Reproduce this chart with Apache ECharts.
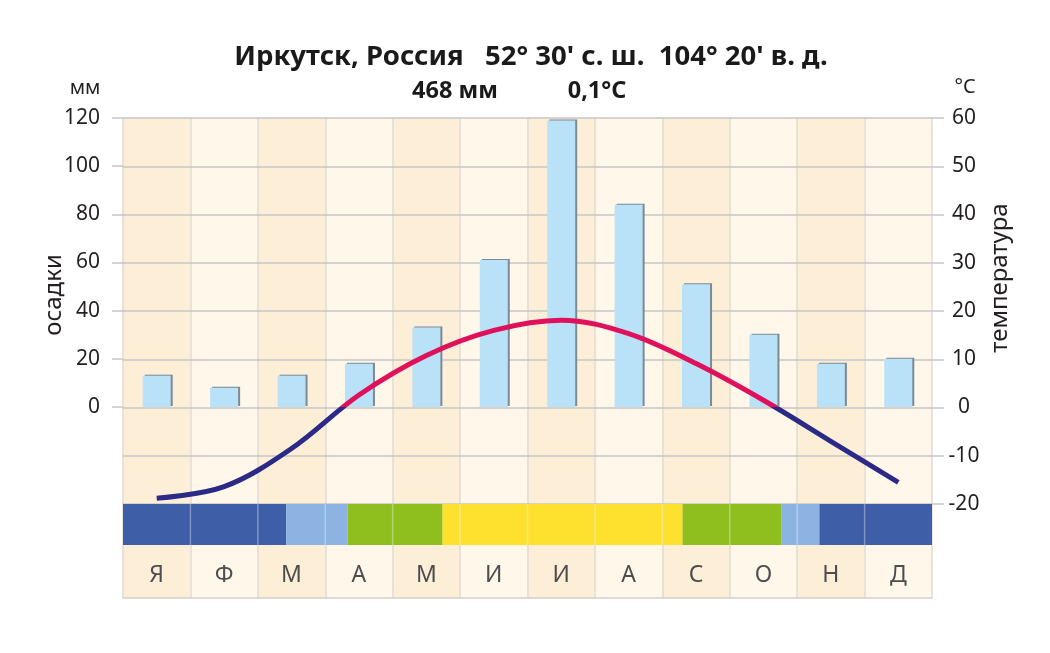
<!DOCTYPE html>
<html><head><meta charset="utf-8">
<script src="https://cdn.jsdelivr.net/npm/echarts@6/dist/echarts.min.js"></script>
<style>html,body{margin:0;padding:0;background:#fff}#c{width:1050px;height:653px}</style>
</head><body><div id="c"></div>
<script>
const months = ['Я','Ф','М','А','М','И','И','А','С','О','Н','Д'];
const precipitation = [13, 8, 13, 18, 33, 61, 119, 84, 51, 30, 18, 20];
const temperature = [-18.8, -16.4, -8.5, 2.6, 10.8, 16.0, 18.1, 15.3, 9.1, 1.5, -7.0, -15.5];
// season band, in month units
const seasonStart = [0, 2.42, 3.33, 4.74, 8.30, 9.77, 10.33];
const seasonEnd   = [2.42, 3.33, 4.74, 8.30, 9.77, 10.33, 12];
const seasonType  = ['winter', 'transition', 'green', 'summer', 'green', 'transition', 'winter'];
const seasonColors = {winter: '#3e5ea8', transition: '#8cb3e1', green: '#8fbe1f', summer: '#fde12e'};

const FONT = 'Noto Sans';
const chart = echarts.init(document.getElementById('c'), null, {renderer: 'canvas'});
const L = 123, R = 118;
const gridColor = '#c6c6c6';

chart.setOption({
  animation: false,
  backgroundColor: '#ffffff',
  textStyle: {fontFamily: FONT},
  grid: [
    {left: L, right: R, top: 118, bottom: 55, outerBoundsMode: 'none'},
    {left: L, right: R, top: 118, bottom: 149, outerBoundsMode: 'none'},
    {left: L, right: R, top: 118, bottom: 246, outerBoundsMode: 'none'},
    {left: L, right: R, top: 504, bottom: 108, outerBoundsMode: 'none'}
  ],
  xAxis: [
    {type: 'category', gridIndex: 0, data: months, boundaryGap: true, z: 0,
     axisLine: {show: true, lineStyle: {color: '#d4d0c9', width: 1.5}},
     axisTick: {show: false},
     axisLabel: {margin: -23, verticalAlign: 'middle', fontSize: 23, color: '#4d4d4d', fontFamily: FONT},
     splitLine: {show: true, lineStyle: {color: '#e0dbd2', width: 1.5}},
     splitArea: {show: true, areaStyle: {color: ['#fdeed8', '#fef7ea']}}},
    {type: 'category', gridIndex: 1, data: months, show: false},
    {type: 'category', gridIndex: 2, data: months, show: false},
    {type: 'value', gridIndex: 3, min: 0, max: 12, show: false}
  ],
  yAxis: [
    {type: 'value', gridIndex: 0, min: 0, max: 1, show: false},
    {type: 'value', gridIndex: 1, position: 'right', min: -20, max: 60, interval: 10, z: 1,
     axisLine: {show: false},
     axisTick: {show: true, length: 12, lineStyle: {color: gridColor, width: 1.5}},
     splitLine: {show: true, lineStyle: {color: gridColor, width: 1.5}},
     axisLabel: {margin: 32, align: 'center', fontSize: 21, color: '#231f20', fontFamily: FONT}},
    {type: 'value', gridIndex: 2, position: 'left', min: 0, max: 120, interval: 20, z: 1,
     axisLine: {show: false},
     axisTick: {show: true, length: 11, lineStyle: {color: gridColor, width: 1.5}},
     splitLine: {show: false},
     axisLabel: {margin: 23, fontSize: 21, color: '#231f20', fontFamily: FONT}},
    {type: 'value', gridIndex: 3, min: 0, max: 1, show: false}
  ],
  visualMap: {
    type: 'piecewise', show: false, seriesIndex: 1, dimension: 1,
    pieces: [{gte: -20, lt: 0, color: '#2b2a86'}, {gte: 0, lte: 60, color: '#e0115b'}]
  },
  series: [
    {type: 'bar', xAxisIndex: 2, yAxisIndex: 2, data: precipitation, barWidth: 28, z: 3,
     itemStyle: {color: '#b9e1f8', shadowColor: '#7b8a95', shadowOffsetX: 2, shadowOffsetY: -1, shadowBlur: 0}},
    {type: 'line', xAxisIndex: 1, yAxisIndex: 1, data: temperature, smooth: 0.35,
     symbol: 'none', z: 4, lineStyle: {width: 5}},
    {type: 'custom', coordinateSystem: 'cartesian2d', xAxisIndex: 3, yAxisIndex: 3, z: 2,
     data: seasonStart.map((s, i) => [s, seasonEnd[i], i]),
     encode: {x: [0, 1]},
     renderItem: function (params, api) {
       const a = api.coord([api.value(0), 1]);
       const b = api.coord([api.value(1), 0]);
       return {type: 'rect', shape: {x: a[0], y: a[1], width: b[0] - a[0], height: b[1] - a[1]},
               style: {fill: seasonColors[seasonType[api.value(2)]]}};
     }},
    {type: 'custom', coordinateSystem: 'cartesian2d', xAxisIndex: 3, yAxisIndex: 3, z: 2.5,
     data: months.slice(1).map((m, i) => [i + 1]),
     encode: {x: 0},
     renderItem: function (params, api) {
       const a = api.coord([api.value(0), 1]);
       const b = api.coord([api.value(0), 0]);
       return {type: 'line', shape: {x1: a[0], y1: a[1], x2: b[0], y2: b[1]},
               style: {stroke: 'rgba(255,255,255,0.35)', lineWidth: 1.5}};
     }}
  ],
  graphic: [
    {type: 'text', x: 531, y: 57, style: {text: "Иркутск, Россия   52° 30' с. ш.  104° 20' в. д.", fontSize: 27.5, fontWeight: 'bold', fontFamily: FONT, fill: '#1a1a1a', textAlign: 'center', textVerticalAlign: 'middle'}},
    {type: 'text', x: 455, y: 91, style: {text: '468 мм', fontSize: 23.5, fontWeight: 'bold', fontFamily: FONT, fill: '#1a1a1a', textAlign: 'center', textVerticalAlign: 'middle'}},
    {type: 'text', x: 597, y: 91, style: {text: '0,1°C', fontSize: 23.5, fontWeight: 'bold', fontFamily: FONT, fill: '#1a1a1a', textAlign: 'center', textVerticalAlign: 'middle'}},
    {type: 'text', x: 85, y: 88, style: {text: 'мм', fontSize: 20, fontFamily: FONT, fill: '#231f20', textAlign: 'center', textVerticalAlign: 'middle'}},
    {type: 'text', x: 965, y: 87, style: {text: '°C', fontSize: 20, fontFamily: FONT, fill: '#231f20', textAlign: 'center', textVerticalAlign: 'middle'}},
    {type: 'text', x: 54, y: 295, rotation: Math.PI / 2, style: {text: 'осадки', fontSize: 24, fontFamily: FONT, fill: '#231f20', textAlign: 'center', textVerticalAlign: 'middle'}},
    {type: 'text', x: 1000, y: 278, rotation: Math.PI / 2, style: {text: 'температура', fontSize: 24, fontFamily: FONT, fill: '#231f20', textAlign: 'center', textVerticalAlign: 'middle'}}
  ]
});
</script>
</body></html>
